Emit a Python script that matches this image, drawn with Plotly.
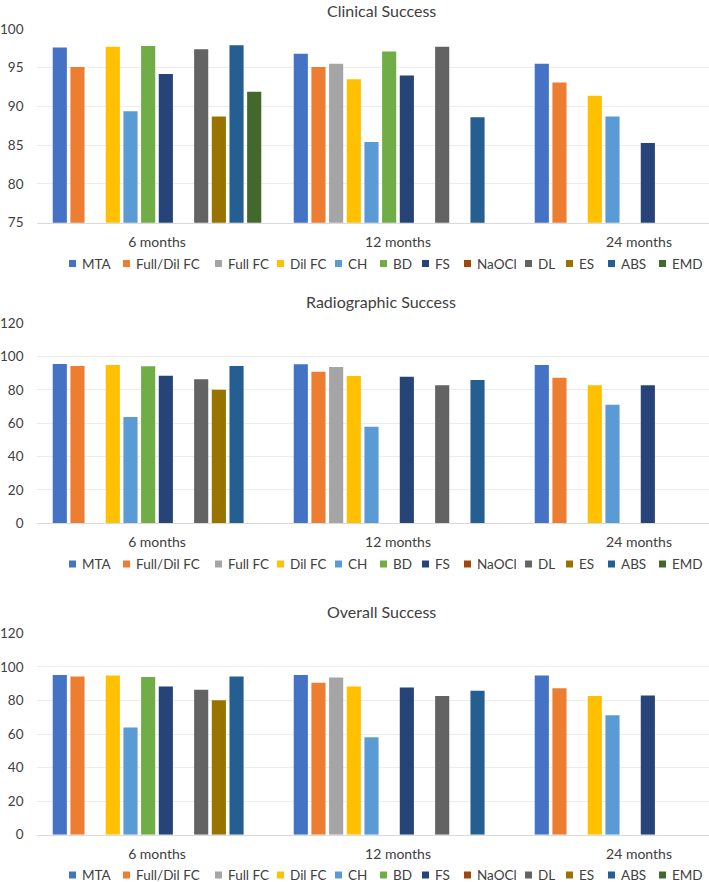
import plotly.graph_objects as go

# ---------------- data ----------------
periods = ["6 months", "12 months", "24 months"]
series = ["MTA", "Full/Dil FC", "Full FC", "Dil FC", "CH", "BD", "FS",
          "NaOCl", "DL", "ES", "ABS", "EMD"]
colors = ["#4472C4", "#ED7D31", "#A5A5A5", "#FFC000", "#5B9BD5", "#70AD47",
          "#264478", "#9E480E", "#636363", "#997300", "#255E91", "#43682B"]

N = None
# values per series: [6 months, 12 months, 24 months]
clinical = {
    "MTA":         [97.6, 96.8, 95.5],
    "Full/Dil FC": [95.1, 95.1, 93.1],
    "Full FC":     [N,    95.5, N],
    "Dil FC":      [97.7, 93.5, 91.4],
    "CH":          [89.4, 85.4, 88.7],
    "BD":          [97.8, 97.1, N],
    "FS":          [94.2, 94.0, 85.3],
    "NaOCl":       [N,    N,    N],
    "DL":          [97.4, 97.7, N],
    "ES":          [88.7, N,    N],
    "ABS":         [97.9, 88.6, N],
    "EMD":         [91.9, N,    N],
}
radiographic = {
    "MTA":         [95.6, 95.4, 95.0],
    "Full/Dil FC": [94.4, 91.0, 87.4],
    "Full FC":     [N,    93.8, N],
    "Dil FC":      [95.0, 88.4, 82.8],
    "CH":          [63.8, 58.0, 71.2],
    "BD":          [94.2, N,    N],
    "FS":          [88.6, 88.0, 82.8],
    "NaOCl":       [N,    N,    N],
    "DL":          [86.4, 82.8, N],
    "ES":          [80.2, N,    N],
    "ABS":         [94.4, 86.0, N],
    "EMD":         [N,    N,    N],
}
overall = {
    "MTA":         [95.2, 95.2, 94.8],
    "Full/Dil FC": [94.2, 90.6, 87.3],
    "Full FC":     [N,    93.6, N],
    "Dil FC":      [94.8, 88.3, 82.7],
    "CH":          [63.8, 58.0, 71.1],
    "BD":          [93.9, N,    N],
    "FS":          [88.3, 87.7, 82.9],
    "NaOCl":       [N,    N,    N],
    "DL":          [86.3, 82.7, N],
    "ES":          [80.1, N,    N],
    "ABS":         [94.2, 85.8, N],
    "EMD":         [N,    N,    N],
}
titles = ["Clinical Success", "Radiographic Success", "Overall Success"]
y_ranges = [[75, 100], [0, 120]]
y_dticks = [5, 20]

# ---------------- layout helpers ----------------
W, H = 709, 882
FONT = "Lato"
TXT = "#404040"

def py(px):
    return 1 - px / H

def pxx(px):
    return px / W

# plot areas in window pixels: (top, bottom)
areas = [(29.0, 222.7), (323.3, 523.3), (633.3, 834.7)]
title_top = [0, 291, 601]
legend_y = [263.5, 564, 875]
legend_sq_x = [69, 123, 215, 277, 335, 380, 422, 464, 525, 566, 608, 659]
x_left = 36.5
cat_w = 241.0

fig = go.Figure()
datasets = [clinical, radiographic, overall]
xs = list(range(len(periods)))
for k, data in enumerate(datasets):
    ax = "" if k == 0 else str(k + 1)
    for s, c in zip(series, colors):
        fig.add_trace(go.Bar(
            x=xs, y=data[s], name=s, marker=dict(color=c, line=dict(width=0)),
            xaxis="x" + ax, yaxis="y" + ax, showlegend=False,
            offsetgroup=s,
        ))

layout = dict(
    width=W, height=H, autosize=False,
    margin=dict(l=0, r=0, t=0, b=0, autoexpand=False),
    paper_bgcolor="white", plot_bgcolor="white",
    barmode="group", bargap=0.12, bargroupgap=0.2,
    font=dict(family=FONT, color=TXT),
    showlegend=False,
)
x_hi = -0.5 + (W - x_left) / cat_w
shapes = []
annotations = []
for k in range(3):
    ax = "" if k == 0 else str(k + 1)
    top, bot = areas[k]
    rng = y_ranges[0] if k == 0 else y_ranges[1]
    dt = y_dticks[0] if k == 0 else y_dticks[1]
    layout["xaxis" + ax] = dict(
        domain=[pxx(x_left), 1], range=[-0.5, x_hi], anchor="y" + ax,
        tickmode="array", tickvals=xs, ticktext=periods,
        tickfont=dict(family=FONT, size=14, color=TXT),
        showgrid=False, zeroline=False, showline=True, linecolor="#D9D9D9",
        linewidth=1, ticks="", ticklabelstandoff=6, fixedrange=True,
        automargin=False,
    )
    layout["yaxis" + ax] = dict(
        domain=[py(bot), py(top)], range=rng, dtick=dt, anchor="x" + ax,
        tickfont=dict(family=FONT, size=13.5, color=TXT),
        showgrid=True, gridcolor="#ECECEC", gridwidth=1, zeroline=False,
        showline=False, ticks="", ticklabelstandoff=12, fixedrange=True,
        automargin=False,
    )
    annotations.append(dict(
        text=titles[k], x=pxx(381), y=py(title_top[k]), xref="paper", yref="paper",
        xanchor="center", yanchor="top", showarrow=False, borderpad=0,
        font=dict(family=FONT, size=16, color=TXT),
    ))
    # legend
    for s, c, lx in zip(series, colors, legend_sq_x):
        shapes.append(dict(
            type="rect", xref="paper", yref="paper",
            x0=pxx(lx), x1=pxx(lx + 7),
            y0=py(legend_y[k] + 3.5), y1=py(legend_y[k] - 3.5),
            fillcolor=c, line=dict(width=0),
        ))
        annotations.append(dict(
            text=s, x=pxx(lx + 11), y=py(legend_y[k]), xref="paper", yref="paper",
            xanchor="left", yanchor="middle", showarrow=False,
            font=dict(family=FONT, size=13.5, color=TXT),
        ))

layout["shapes"] = shapes
layout["annotations"] = annotations
fig.update_layout(**layout)
fig.write_html(
    "out.html",
    config={"displayModeBar": False, "staticPlot": True},
    post_script="document.body.style.margin='0px';document.body.style.overflow='hidden';",
)
